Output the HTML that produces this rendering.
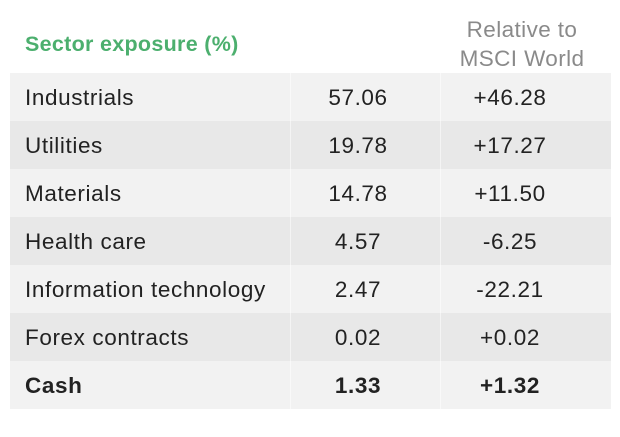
<!DOCTYPE html>
<html><head><meta charset="utf-8"><style>
body{margin:0;width:620px;height:437px;background:#fff;font-family:"Liberation Sans",sans-serif;position:relative;overflow:hidden}
.t{position:absolute;left:10px;top:73px;width:601px}
.r{height:48px;position:relative;font-size:22.5px;letter-spacing:0.6px;color:#222}
.r:nth-child(odd){background:#f2f2f2}.r:nth-child(even){background:#e8e8e8}
.r span{position:absolute;top:52%;transform:translateY(-50%)}
.l{left:15px}.a{left:348px;transform:translate(-50%,-50%)!important}.b{left:500px;transform:translate(-50%,-50%)!important}
.bold{font-weight:bold}
.vl{position:absolute;top:0;bottom:0;width:1px;background:rgba(255,255,255,.5)}
</style></head><body>
<div style="position:absolute;left:25px;top:32px;font-size:21.5px;letter-spacing:0.3px;font-weight:bold;color:#4caf6e">Sector exposure (%)</div>
<div style="position:absolute;left:432px;width:180px;top:15px;text-align:center;font-size:22.5px;letter-spacing:0.4px;line-height:29px;color:#8a8a8a">Relative to<br>MSCI World</div>
<div class="t">
<div class="r"><span class="l">Industrials</span><span class="a">57.06</span><span class="b">+46.28</span></div>
<div class="r"><span class="l">Utilities</span><span class="a">19.78</span><span class="b">+17.27</span></div>
<div class="r"><span class="l">Materials</span><span class="a">14.78</span><span class="b">+11.50</span></div>
<div class="r"><span class="l">Health care</span><span class="a">4.57</span><span class="b">-6.25</span></div>
<div class="r"><span class="l">Information technology</span><span class="a">2.47</span><span class="b">-22.21</span></div>
<div class="r"><span class="l">Forex contracts</span><span class="a">0.02</span><span class="b">+0.02</span></div>
<div class="r bold"><span class="l">Cash</span><span class="a">1.33</span><span class="b">+1.32</span></div>
<div class="vl" style="left:280px"></div><div class="vl" style="left:430px"></div>
</div>
</body></html>
